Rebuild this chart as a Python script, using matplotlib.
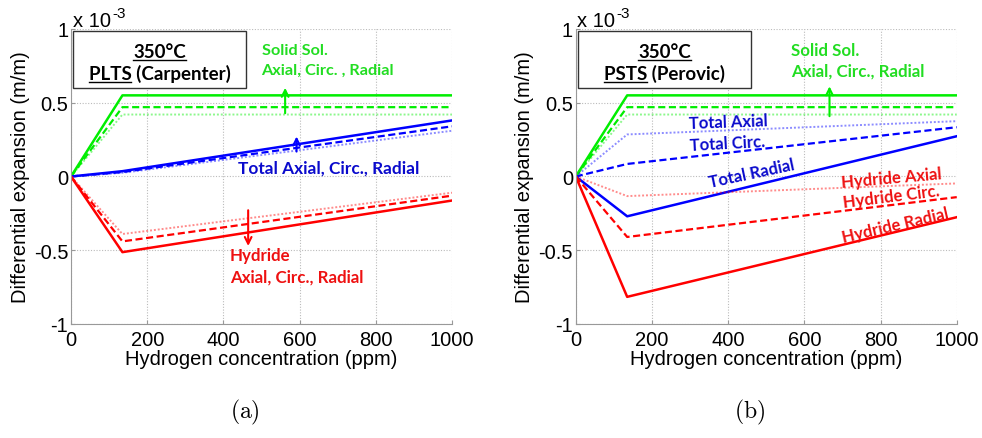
import matplotlib.pyplot as plt
from matplotlib.lines import Line2D

# hydrogen concentration (ppm), break at the solubility limit
h_ppm = [0, 135, 1000]

# differential expansion, units of 1e-3 m/m
# order of series: axial (dotted), circ (dashed), radial (solid)
ss_axial = [0, 0.42, 0.42]
ss_circ = [0, 0.47, 0.47]
ss_radial = [0, 0.55, 0.55]

# (a) PLTS (Carpenter)
a_tot_axial = [0, 0.025, 0.31]
a_tot_circ = [0, 0.03, 0.34]
a_tot_radial = [0, 0.036, 0.38]
a_hyd_axial = [0, -0.39, -0.11]
a_hyd_circ = [0, -0.44, -0.13]
a_hyd_radial = [0, -0.513, -0.163]

# (b) PSTS (Perovic)
b_tot_axial = [0, 0.285, 0.375]
b_tot_circ = [0, 0.085, 0.334]
b_tot_radial = [0, -0.27, 0.273]
b_hyd_axial = [0, -0.133, -0.047]
b_hyd_circ = [0, -0.41, -0.14]
b_hyd_radial = [0, -0.816, -0.276]

x_ticks = [0, 200, 400, 600, 800, 1000]
y_ticks = [-1, -0.5, 0, 0.5, 1]
y_tick_labels = ['-1', '-0.5', '0', '0.5', '1']

GREEN = '#00ee00'
BLUE = '#0000ff'
RED = '#ff0000'
TXT_GREEN = '#22dd22'
TXT_BLUE = '#0a0acc'
TXT_RED = '#ee1111'

AX_FONT = 'Liberation Sans'
NOTE_FONT = 'Lato'
AX_SIZE = 14.5

plt.rcParams['axes.unicode_minus'] = False
plt.rcParams['mathtext.fontset'] = 'cm'

fig = plt.figure(figsize=(9.82, 4.39), dpi=100)
axa = fig.add_axes([0.0723, 0.2597, 0.388, 0.672])
axb = fig.add_axes([0.5863, 0.2597, 0.388, 0.672])

dash = (0, (3.2, 1.6))
dot = (0, (1, 1))


def draw_set(ax, color, axial, circ, radial):
    ax.plot(h_ppm, axial, color=color, lw=1.4, linestyle=dot, alpha=0.45)
    ax.plot(h_ppm, circ, color=color, lw=1.6, linestyle=dash)
    ax.plot(h_ppm, radial, color=color, lw=1.8)


def setup(ax):
    ax.set_xlim(0, 1000)
    ax.set_ylim(-1, 1)
    ax.set_xticks(x_ticks)
    ax.set_xticklabels([str(v) for v in x_ticks], fontfamily=AX_FONT, fontsize=AX_SIZE)
    ax.set_yticks(y_ticks)
    ax.set_yticklabels(y_tick_labels, fontfamily=AX_FONT, fontsize=AX_SIZE)
    ax.tick_params(direction='in', length=3, color='#999999')
    ax.tick_params(axis='x', pad=4)
    ax.tick_params(axis='y', pad=2)
    ax.grid(True, linestyle=(0, (1, 1.5)), color='#bbbbbb', lw=0.8)
    for s in ['top', 'right']:
        ax.spines[s].set_visible(False)
    for s in ['left', 'bottom']:
        ax.spines[s].set_color('#999999')
    ax.set_xlabel('Hydrogen concentration (ppm)', fontfamily=AX_FONT,
                  fontsize=AX_SIZE, labelpad=0)
    ax.set_ylabel('Differential expansion (m/m)', fontfamily=AX_FONT,
                  fontsize=AX_SIZE, labelpad=3)
    t = ax.text(0.004, 1.01, 'x 10', transform=ax.transAxes, fontfamily=AX_FONT,
                fontsize=AX_SIZE, va='baseline', ha='left')
    ax.annotate('-3', xy=(1.0, 0.55), xycoords=t, xytext=(1, 0),
                textcoords='offset points', fontfamily=AX_FONT, fontsize=11,
                va='bottom', ha='left')


def note(ax, x, y, s, color, rot=0, ha='left', size=12):
    ax.text(x, y, s, color=color, fontfamily=NOTE_FONT, fontweight='bold',
            fontsize=size, rotation=rot, ha=ha, va='center',
            rotation_mode='anchor')


def arrow(ax, x, y0, y1, color):
    ax.annotate('', xy=(x, y1), xytext=(x, y0),
                arrowprops=dict(arrowstyle='->', color=color, lw=1.5,
                                mutation_scale=12))


for ax in (axa, axb):
    setup(ax)
    draw_set(ax, GREEN, ss_axial, ss_circ, ss_radial)

draw_set(axa, BLUE, a_tot_axial, a_tot_circ, a_tot_radial)
draw_set(axa, RED, a_hyd_axial, a_hyd_circ, a_hyd_radial)
draw_set(axb, BLUE, b_tot_axial, b_tot_circ, b_tot_radial)
draw_set(axb, RED, b_hyd_axial, b_hyd_circ, b_hyd_radial)

# annotations (a)
note(axa, 500, 0.86, 'Solid Sol.', TXT_GREEN, size=11.7)
note(axa, 500, 0.72, 'Axial, Circ. , Radial', TXT_GREEN, size=11.7)
arrow(axa, 562, 0.41, 0.62, GREEN)
note(axa, 438, 0.06, 'Total Axial, Circ., Radial', TXT_BLUE, size=12.4)
arrow(axa, 592, 0.15, 0.29, BLUE)
note(axa, 417, -0.535, 'Hydride', TXT_RED, size=12.2)
note(axa, 417, -0.68, 'Axial, Circ., Radial', TXT_RED, size=12.2)
arrow(axa, 465, -0.21, -0.49, RED)

# annotations (b)
note(axb, 565, 0.86, 'Solid Sol.', TXT_GREEN, size=12.2)
note(axb, 565, 0.72, 'Axial, Circ., Radial', TXT_GREEN, size=12.2)
arrow(axb, 666, 0.39, 0.63, GREEN)
note(axb, 401, 0.375, 'Total Axial', TXT_BLUE, rot=2, ha='center')
note(axb, 397, 0.23, 'Total Circ.', TXT_BLUE, rot=3, ha='center')
note(axb, 462, 0.02, 'Total Radial', TXT_BLUE, rot=12, ha='center')
note(axb, 828, -0.005, 'Hydride Axial', TXT_RED, rot=5, ha='center')
note(axb, 829, -0.135, 'Hydride Circ.', TXT_RED, rot=7, ha='center')
note(axb, 838, -0.33, 'Hydride Radial', TXT_RED, rot=13, ha='center')

# title boxes
boxes = [(axa, 'PLTS', ' (Carpenter)', (73, 32, 246, 89)),
         (axb, 'PSTS', ' (Perovic)', (578, 32, 751, 89))]
fig.canvas.draw()
renderer = fig.canvas.get_renderer()
H = 439
W = 982
for ax, abbr, rest, (x0, y0, x1, y1) in boxes:
    rect = plt.Rectangle((x0 / W, 1 - y1 / H), (x1 - x0) / W, (y1 - y0) / H,
                         transform=fig.transFigure, fill=True, fc='white',
                         ec='#333333', lw=1.0, zorder=5)
    fig.add_artist(rect)
    cx = (x0 + x1) / 2 / W
    kw = dict(fontfamily=NOTE_FONT, fontweight='bold', fontsize=13.5,
              ha='center', va='baseline', zorder=6)
    t1 = fig.text(cx, 1 - 58 / H, '350°C', **kw)
    t2 = fig.text(cx, 1 - 80 / H, abbr + rest, **kw)
    tmp = fig.text(0, 0, abbr, **dict(kw, ha='left'))
    fig.canvas.draw()
    b1 = t1.get_window_extent(renderer)
    b2 = t2.get_window_extent(renderer)
    wa = tmp.get_window_extent(renderer).width
    tmp.remove()
    uy1 = (1 - 58 / H) - 2.5 / H
    uy2 = (1 - 80 / H) - 2.5 / H
    fig.add_artist(Line2D([b1.x0 / W, b1.x1 / W], [uy1, uy1], color='black',
                          lw=1.0, zorder=6))
    fig.add_artist(Line2D([b2.x0 / W, (b2.x0 + wa) / W], [uy2, uy2],
                          color='black', lw=1.0, zorder=6))

fig.text(245 / W, 1 - 412 / H, r'$\mathrm{(a)}$', fontsize=17, ha='center', va='center')
fig.text(750 / W, 1 - 412 / H, r'$\mathrm{(b)}$', fontsize=17, ha='center', va='center')

fig.savefig('out.png', dpi=100)
